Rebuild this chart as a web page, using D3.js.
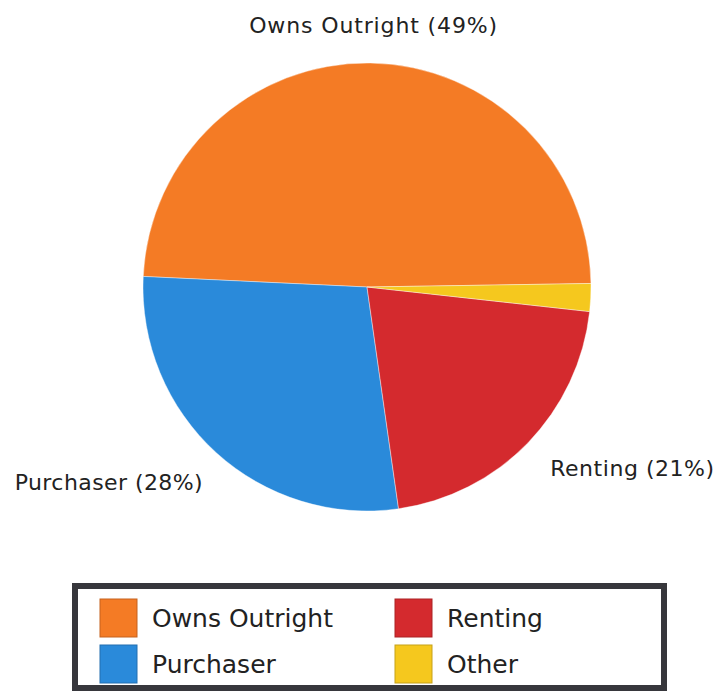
<!DOCTYPE html>
<html>
<head>
<meta charset="utf-8">
<script src="https://cdn.jsdelivr.net/npm/d3@7"></script>
<style>
  html, body { margin: 0; padding: 0; background: #ffffff; }
  svg { display: block; }
  text { font-family: "DejaVu Sans", Verdana, sans-serif; fill: #222; }
</style>
</head>
<body>
<script>
// ---- data ----
const categories = ["Owns Outright", "Purchaser", "Renting", "Other"];
const values = [49, 28, 21, 2];
const colors = ["#F47B25", "#2A8ADA", "#D42A2E", "#F5C81E"];
const showLabel = [true, true, true, false];

// ---- layout ----
const W = 718, H = 691;
const cx = 367, cy = 287, R = 224;
const startDeg = 89.1; // slices run counter-clockwise from the right

const svg = d3.select("body").append("svg").attr("width", W).attr("height", H);

const pie = d3.pie().sort(null).value(d => d.v)
  .startAngle(startDeg * Math.PI / 180)
  .endAngle(startDeg * Math.PI / 180 - 2 * Math.PI);
const data = categories.map((c, i) => ({ c, v: values[i], col: colors[i], lab: showLabel[i] }));
const arcs = pie(data);
const arc = d3.arc().innerRadius(0).outerRadius(R);

const g = svg.append("g").attr("transform", `translate(${cx},${cy})`);
g.selectAll("path").data(arcs).join("path")
  .attr("d", arc)
  .attr("fill", d => d.data.col)
  .attr("stroke", "rgba(255,255,255,0.5)")
  .attr("stroke-width", 0.8);

// ---- slice labels ----
const labelR = 262;
const labelTweak = { "Owns Outright": [2, 0, 248], "Purchaser": [12, 2, 188], "Renting": [-5, -1, 164] };
arcs.filter(d => d.data.lab).forEach(d => {
  const mid = (d.startAngle + d.endAngle) / 2;
  const x = Math.sin(mid) * labelR, y = -Math.cos(mid) * labelR;
  const anchor = x > 50 ? "start" : (x < -50 ? "end" : "middle");
  const t = labelTweak[d.data.c];
  g.append("text")
    .attr("x", x + t[0]).attr("y", y + t[1])
    .attr("text-anchor", anchor)
    .attr("dominant-baseline", "central")
    .attr("font-size", 22)
    .attr("textLength", t[2]).attr("lengthAdjust", "spacing")
    .text(`${d.data.c} (${d.data.v}%)`);
});

// ---- legend ----
const lg = svg.append("g");
lg.append("rect")
  .attr("x", 75).attr("y", 586).attr("width", 589).attr("height", 102)
  .attr("fill", "#fff").attr("stroke", "#37373c").attr("stroke-width", 6);
const colX = [100, 395], rowY = [599, 645], sw = 37;
data.forEach((d, i) => {
  const col = Math.floor(i / 2), row = i % 2;
  lg.append("rect")
    .attr("x", colX[col]).attr("y", rowY[row]).attr("width", sw).attr("height", 38)
    .attr("fill", d.col).attr("stroke", d3.color(d.col).darker(0.6)).attr("stroke-width", 1);
  lg.append("text")
    .attr("x", colX[col] + sw + 15).attr("y", rowY[row] + 19)
    .attr("dominant-baseline", "central")
    .attr("font-size", 25)
    .text(d.c);
});
</script>
</body>
</html>
